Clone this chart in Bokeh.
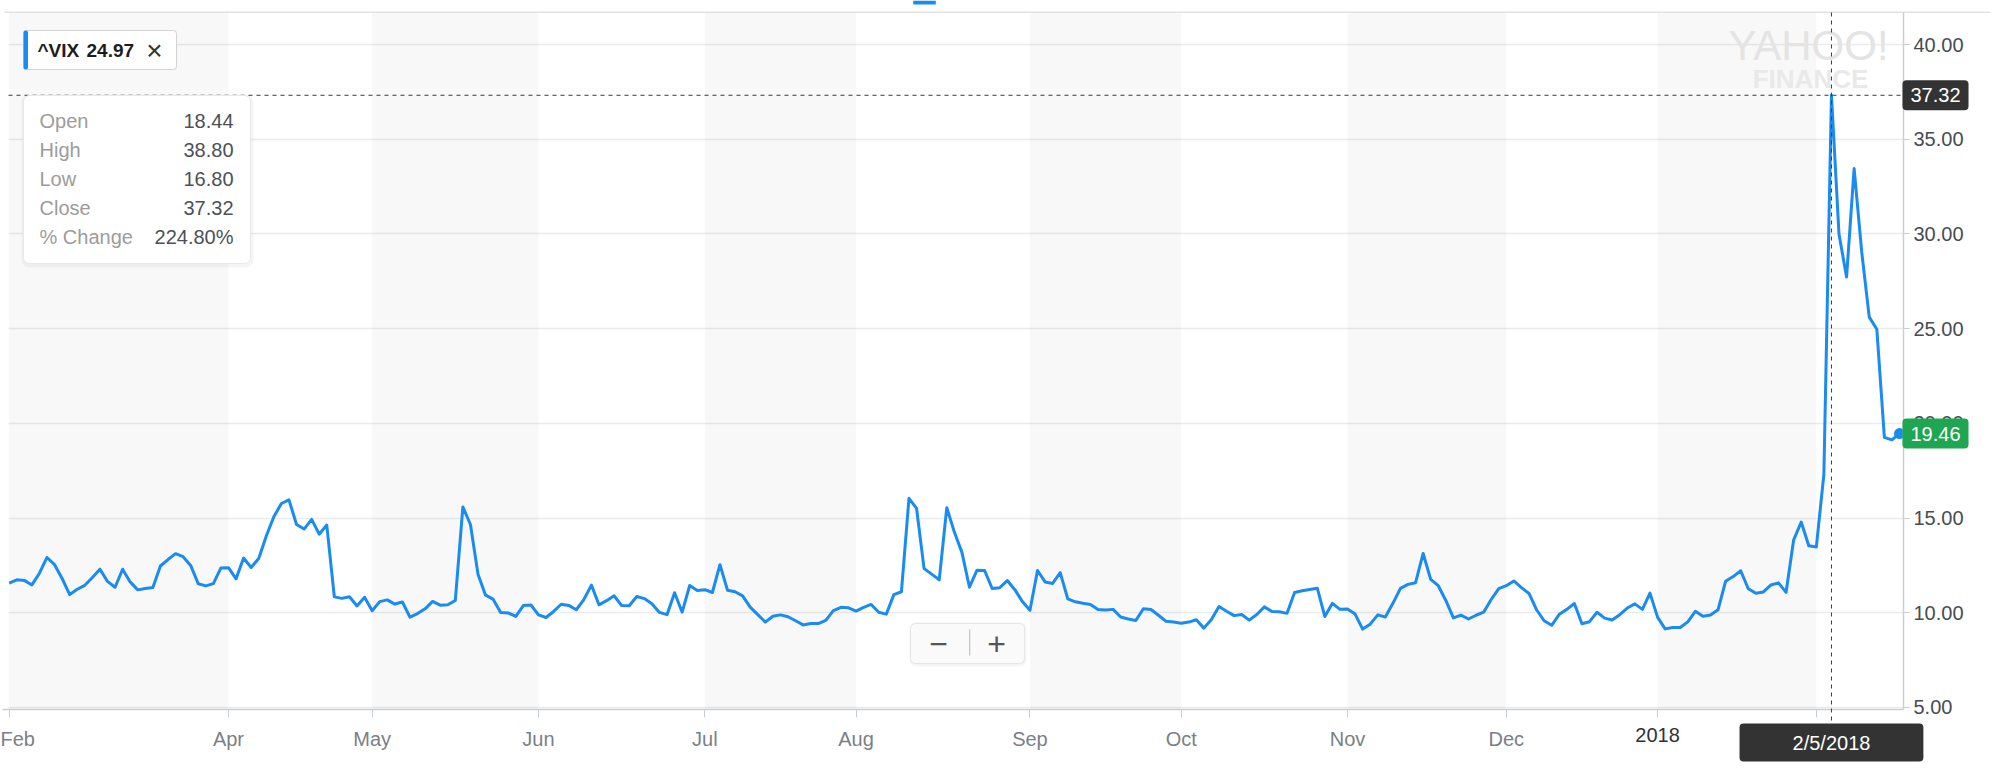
import pandas as pd
from bokeh.plotting import figure
from bokeh.models import (Range1d, FixedTicker, NumeralTickFormatter, BoxAnnotation,
                          Label, Arrow, Grid)
from bokeh.embed import file_html
from bokeh.resources import INLINE

# ---------------- data ----------------
start_date = "2017-02-21"
end_date = "2018-02-16"
market_holidays = ["2017-04-14", "2017-05-29", "2017-07-04", "2017-09-04",
                   "2017-11-23", "2017-12-25", "2018-01-01", "2018-01-15"]

close_feb17 = [11.57, 11.74, 11.71, 11.47, 12.09, 12.92]
close_mar17 = [12.54, 11.81, 10.96, 11.24, 11.45, 11.86, 12.30, 11.66, 11.35, 12.30, 11.63, 11.21,
               11.28, 11.34, 12.47, 12.81, 13.12, 12.96, 12.50, 11.53, 11.42, 11.54, 12.37]
close_apr17 = [12.38, 11.79, 12.89, 12.39, 12.87, 14.05, 15.07, 15.77, 15.96, 14.66, 14.42, 14.93,
               14.15, 14.63, 10.84, 10.76, 10.85, 10.36, 10.82]
close_may17 = [10.11, 10.59, 10.68, 10.46, 10.57, 9.77, 9.96, 10.21, 10.60, 10.40, 10.42, 10.65,
               15.59, 14.66, 12.04, 10.93, 10.72, 10.02, 9.99, 9.81, 10.38, 10.41]
close_jun17 = [9.89, 9.75, 10.07, 10.45, 10.39, 10.16, 10.70, 11.46, 10.42, 10.64, 10.90, 10.38,
               10.37, 10.86, 10.75, 10.48, 10.02, 9.90, 11.06, 10.03, 11.44, 11.18]
close_jul17 = [11.22, 11.07, 12.54, 11.19, 11.11, 10.89, 10.30, 9.90, 9.51, 9.82, 9.89, 9.79,
               9.58, 9.36, 9.43, 9.43, 9.60, 10.11, 10.29, 10.26]
close_aug17 = [10.09, 10.28, 10.44, 10.03, 9.93, 10.96, 11.11, 16.04, 15.51, 12.33, 12.04, 11.74,
               15.55, 14.26, 13.19, 11.35, 12.25, 12.23, 11.28, 11.32, 11.70, 11.22, 10.59]
close_sep17 = [10.13, 12.23, 11.63, 11.55, 12.12, 10.73, 10.58, 10.50, 10.44, 10.17, 10.15, 10.18,
               9.78, 9.67, 9.59, 10.21, 10.17, 9.87, 9.55, 9.51]
close_oct17 = [9.45, 9.51, 9.63, 9.19, 9.65, 10.33, 10.08, 9.85, 9.91, 9.61, 9.91, 10.31,
               10.07, 10.05, 9.97, 11.07, 11.16, 11.23, 11.30, 9.80, 10.50, 10.18]
close_nov17 = [10.20, 9.93, 9.14, 9.40, 9.89, 9.78, 10.50, 11.29, 11.50, 11.59, 13.13, 11.76,
               11.43, 10.65, 9.73, 9.88, 9.67, 9.87, 10.03, 10.70, 11.28]
close_dec17 = [11.43, 11.68, 11.33, 11.02, 10.16, 9.58, 9.34, 9.92, 10.18, 10.49, 9.42, 9.53,
               10.03, 9.72, 9.62, 9.90, 10.25, 10.47, 10.18, 11.04]
close_jan18 = [9.77, 9.15, 9.22, 9.22, 9.52, 10.08, 9.82, 9.88, 10.16, 11.66, 11.91, 12.22,
               11.27, 11.03, 11.10, 11.47, 11.58, 11.08, 13.84, 14.79, 13.54]
close_feb18 = [13.47, 17.31, 37.32, 29.98, 27.73, 33.46, 29.06, 25.61, 24.97, 19.26, 19.13, 19.46]

tick_months = ["2017-02", "2017-04", "2017-05", "2017-06", "2017-07", "2017-08",
               "2017-09", "2017-10", "2017-11", "2017-12", "2018-01", "2018-02"]
tick_labels = ["Feb", "Apr", "May", "Jun", "Jul", "Aug", "Sep", "Oct", "Nov", "Dec", "2018", "Feb"]
y_ticks = [5, 10, 15, 20, 25, 30, 35, 40]

symbol = "^VIX"
symbol_value = "24.97"
tooltip_names = ["Open", "High", "Low", "Close", "% Change"]
tooltip_values = ["18.44", "38.80", "16.80", "37.32", "224.80%"]
crosshair_date = "2018-02-05"
crosshair_text = "2/5/2018"

# ---------------- derived ----------------
closes = (close_feb17 + close_mar17 + close_apr17 + close_may17 + close_jun17 + close_jul17 +
          close_aug17 + close_sep17 + close_oct17 + close_nov17 + close_dec17 + close_jan18 +
          close_feb18)
dates = [d for d in pd.bdate_range(start_date, end_date)
         if d.strftime("%Y-%m-%d") not in market_holidays]
assert len(dates) == len(closes), (len(dates), len(closes))
idx = list(range(len(closes)))
date_str = [d.strftime("%Y-%m-%d") for d in dates]

month_first = {}
for i, d in enumerate(dates):
    month_first.setdefault(d.strftime("%Y-%m"), i)
ticks = [month_first[m] for m in tick_months]

cross_i = date_str.index(crosshair_date)
cross_v = closes[cross_i]
last_i, last_v = idx[-1], closes[-1]

# ---------------- geometry (page px; canvas at page 0,0; frame = whole canvas) ----------------
CW, CH = 1990, 762
PL, PR, PT, PB = 8, 1903, 12, 709        # plotting area inside the canvas
FIRST_PX, LAST_PX = 8.7, 1899.0          # where first / last session sit
PX_PER_I = (LAST_PX - FIRST_PX) / (len(closes) - 1)
V_TOP, V_BOT = 41.69, 4.894              # values at PT / PB
PX_PER_V = (PB - PT) / (V_TOP - V_BOT)

XS = -FIRST_PX / PX_PER_I
XE = XS + CW / PX_PER_I
YE = V_TOP + PT / PX_PER_V
YS = YE - CH / PX_PER_V


def dx(px):
    return XS + px / PX_PER_I


def dy(py):
    return YE - py / PX_PER_V


FONT = "Liberation Sans"
BLUE = "#1a8bf0"
AXIS_GREY = "#c9ced2"

p = figure(frame_width=CW, frame_height=CH,
           x_range=Range1d(XS, XE), y_range=Range1d(YS, YE),
           y_axis_location="right", output_backend="svg", toolbar_location=None,
           min_border=0, min_border_left=0, min_border_right=0, min_border_top=0,
           min_border_bottom=0,
           background_fill_color="white", border_fill_color="white",
           outline_line_color=None)

# month bands
for a, b in zip(ticks[0::2], ticks[1::2]):
    p.add_layout(BoxAnnotation(left=a, right=b, top=dy(PT), bottom=dy(PB),
                               fill_color="black", fill_alpha=0.028,
                               line_color=None, level="underlay"))

# top border strip
p.add_layout(BoxAnnotation(left=dx(4), right=dx(1992), top=dy(PT - 1), bottom=dy(PT + 0.5),
                           fill_color="#e2e2e2", fill_alpha=1,
                           line_color=None, level="underlay"))

# watermark
p.add_layout(Label(x=dx(1808), y=dy(45), text="YAHOO!", text_align="center",
                   text_baseline="middle", text_color="#e4e4e4", text_font=FONT,
                   text_font_size="42px", level="underlay"))
p.add_layout(Label(x=dx(1810), y=dy(78), text="FINANCE", text_align="center",
                   text_baseline="middle", text_color="#e9e9e9", text_font=FONT,
                   text_font_size="26px", text_font_style="bold", level="underlay"))

# axes (pinned at the plotting-area edges)
p.xaxis.fixed_location = dy(PB)
p.xaxis.bounds = (dx(2), dx(PR))
p.xaxis.ticker = FixedTicker(ticks=ticks)
overrides = {t: lab for t, lab in zip(ticks, tick_labels)}
overrides[ticks[10]] = ""
overrides[ticks[11]] = ""
p.xaxis.major_label_overrides = overrides
p.xaxis.axis_line_color = AXIS_GREY
p.xaxis.axis_line_width = 1.5
p.xaxis.major_tick_line_color = AXIS_GREY
p.xaxis.major_tick_out = 8
p.xaxis.major_tick_in = 0
p.xaxis.minor_tick_line_color = None
p.xaxis.major_label_text_color = "#7b8087"
p.xaxis.major_label_text_font = FONT
p.xaxis.major_label_text_font_size = "20px"
p.xaxis.major_label_standoff = 10

p.yaxis.fixed_location = dx(PR)
p.yaxis.bounds = (dy(PB), dy(PT))
p.yaxis.ticker = FixedTicker(ticks=y_ticks)
p.yaxis.formatter = NumeralTickFormatter(format="0.00")
p.yaxis.axis_line_color = AXIS_GREY
p.yaxis.axis_line_width = 1.5
p.yaxis.major_tick_line_color = AXIS_GREY
p.yaxis.major_tick_out = 6
p.yaxis.major_tick_in = 0
p.yaxis.minor_tick_line_color = None
p.yaxis.major_label_text_color = "#474c53"
p.yaxis.major_label_text_font = FONT
p.yaxis.major_label_text_font_size = "20px"
p.yaxis.major_label_standoff = 4

p.xgrid.grid_line_color = None
p.ygrid.ticker = FixedTicker(ticks=y_ticks)
if "cross_bounds" in Grid.properties():
    p.ygrid.cross_bounds = (dx(PL), dx(PR))
    p.ygrid.grid_line_color = "#ebebeb"
    p.ygrid.grid_line_width = 1.5
else:
    p.ygrid.grid_line_color = None
    p.segment(x0=[dx(PL)] * len(y_ticks), y0=y_ticks, x1=[dx(PR)] * len(y_ticks), y1=y_ticks,
              line_color="#ebebeb", line_width=1.5, level="underlay")

# top handle mark
p.add_layout(Label(x=dx(924), y=dy(2), text=" ", text_align="center", text_baseline="middle",
                   text_font_size="2px", background_fill_color=BLUE, padding=(11, 1)))

# year label (darker)
p.add_layout(Label(x=ticks[10], y=dy(PB + 18), text=tick_labels[10], text_align="center",
                   text_baseline="top", text_color="#2f3336", text_font=FONT,
                   text_font_size="20px"))

# series
p.line(idx, closes, line_color=BLUE, line_width=3, line_join="round")
p.scatter([last_i], [last_v], size=11, fill_color=BLUE, line_color=None)

# crosshair
p.add_layout(Arrow(end=None, x_start=dx(PL), y_start=cross_v, x_end=dx(PR), y_end=cross_v,
                   line_color="#3a3a3a", line_dash="4 4", line_width=1))
p.add_layout(Arrow(end=None, x_start=cross_i, y_start=dy(PT), x_end=cross_i, y_end=dy(728),
                   line_color="#3a3a3a", line_dash="4 4", line_width=1))

# value badges on the right axis
p.add_layout(Label(x=dx(1935), y=cross_v, text=f"{cross_v:.2f}", text_align="center",
                   text_baseline="middle", text_color="white", text_font=FONT,
                   text_font_size="20px", background_fill_color="#333333",
                   border_radius=4, padding=(8, 8)))
p.add_layout(Label(x=dx(1935), y=last_v, text=f"{last_v:.2f}", text_align="center",
                   text_baseline="middle", text_color="white", text_font=FONT,
                   text_font_size="20px", background_fill_color="#1fa653",
                   border_radius=4, padding=(8, 8)))
# date badge
p.add_layout(Label(x=cross_i, y=dy(742), text=crosshair_text, text_align="center",
                   text_baseline="middle", text_color="white", text_font=FONT,
                   text_font_size="20px", background_fill_color="#333333",
                   border_radius=4, padding=(53, 8)))

# legend chip
p.add_layout(BoxAnnotation(left=dx(23), right=dx(176), top=dy(30), bottom=dy(69),
                           fill_color="white", fill_alpha=1, line_color="#d3d3d3",
                           line_alpha=1, line_width=1, border_radius=3))
p.add_layout(BoxAnnotation(left=dx(23), right=dx(27.5), top=dy(30), bottom=dy(69),
                           fill_color=BLUE, fill_alpha=1, line_color=None, border_radius=2))
p.add_layout(Label(x=dx(37), y=dy(50), text=symbol, text_align="left", text_baseline="middle",
                   text_color="#1d1d1d", text_font=FONT, text_font_size="19px",
                   text_font_style="bold"))
p.add_layout(Label(x=dx(86), y=dy(50), text=symbol_value, text_align="left",
                   text_baseline="middle", text_color="#1d1d1d", text_font=FONT,
                   text_font_size="19px", text_font_style="bold"))
p.add_layout(Label(x=dx(154), y=dy(50), text="\u00d7", text_align="center",
                   text_baseline="middle", text_color="#333333", text_font=FONT,
                   text_font_size="28px"))

# tooltip box
p.add_layout(BoxAnnotation(left=dx(21), right=dx(253), top=dy(94), bottom=dy(267),
                           fill_color="black", fill_alpha=0.04, line_color=None,
                           border_radius=8))
p.add_layout(BoxAnnotation(left=dx(23), right=dx(250), top=dy(95), bottom=dy(263),
                           fill_color="white", fill_alpha=1, line_color="#e8e8e8",
                           line_alpha=1, line_width=1, border_radius=6))
row_y = [120, 149, 178, 207, 236]
for name, val, ry in zip(tooltip_names, tooltip_values, row_y):
    p.add_layout(Label(x=dx(39), y=dy(ry), text=name, text_align="left", text_baseline="middle",
                       text_color="#9c9c9c", text_font=FONT, text_font_size="20px"))
    p.add_layout(Label(x=dx(233), y=dy(ry), text=val, text_align="right",
                       text_baseline="middle", text_color="#4d5157", text_font=FONT,
                       text_font_size="20px"))

# zoom control
p.add_layout(BoxAnnotation(left=dx(909), right=dx(1026), top=dy(622), bottom=dy(666),
                           fill_color="black", fill_alpha=0.04, line_color=None,
                           border_radius=6))
p.add_layout(BoxAnnotation(left=dx(910), right=dx(1024), top=dy(623), bottom=dy(663),
                           fill_color="#fafafa", fill_alpha=1, line_color="#e6e6e6",
                           line_alpha=1, line_width=1, border_radius=5))
p.add_layout(BoxAnnotation(left=dx(968.5), right=dx(969.8), top=dy(629), bottom=dy(655),
                           fill_color="#c8c8c8", fill_alpha=1, line_color=None))
p.add_layout(Label(x=dx(938), y=dy(643), text="\u2212", text_align="center",
                   text_baseline="middle", text_color="#555555", text_font=FONT,
                   text_font_size="32px"))
p.add_layout(Label(x=dx(996), y=dy(643), text="+", text_align="center",
                   text_baseline="middle", text_color="#555555", text_font=FONT,
                   text_font_size="32px"))

open("out.html", "w").write(file_html(p, INLINE))
